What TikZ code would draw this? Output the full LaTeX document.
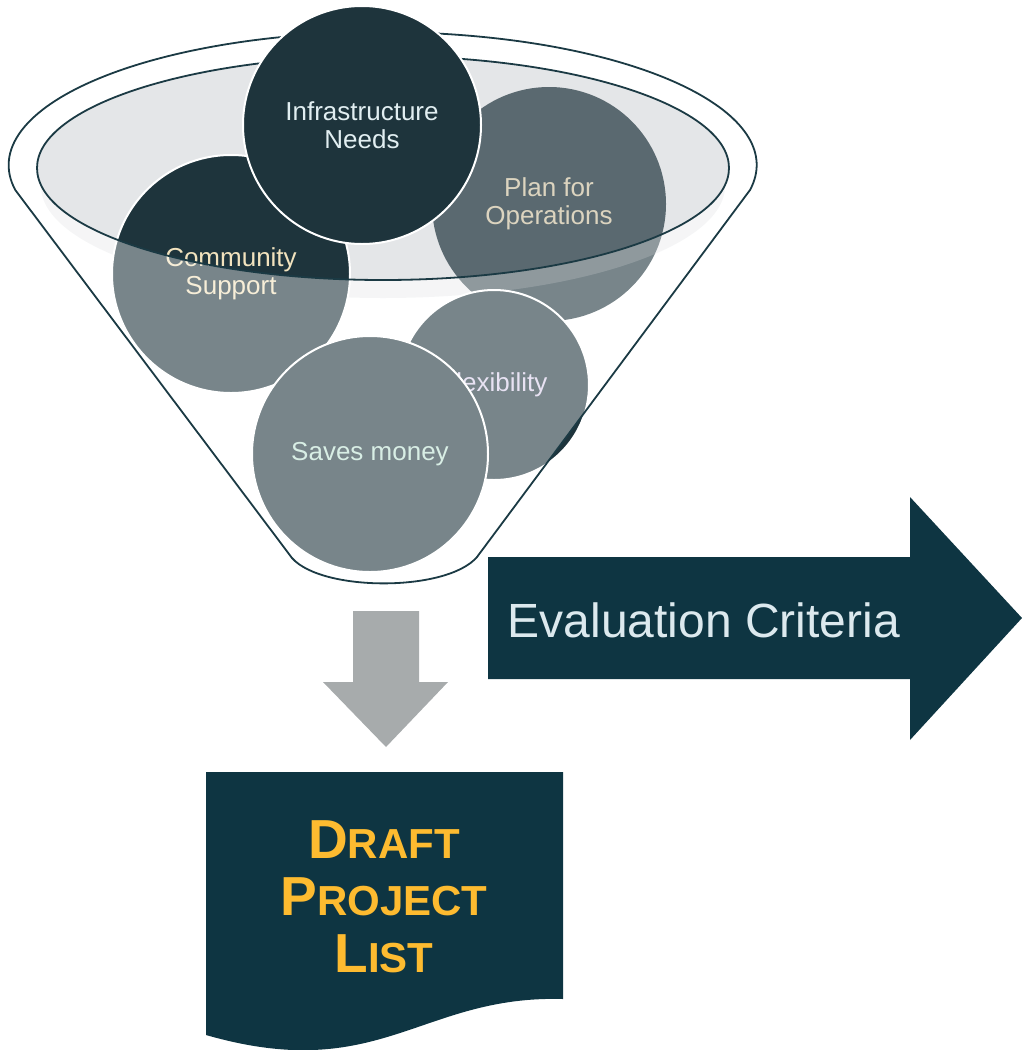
\documentclass[tikz,border=0pt]{standalone}
\usepackage{fontspec}
\setmainfont{Liberation Sans}
\usetikzlibrary{positioning}
\definecolor{balldark}{HTML}{1E343C}
\definecolor{rimline}{HTML}{1B3A44}
\definecolor{rimfill}{HTML}{BABEC3}
\definecolor{navy}{HTML}{0E3542}
\definecolor{arrowgray}{HTML}{A7ABAC}
\definecolor{gold}{HTML}{FDBB30}
\definecolor{ballcream}{HTML}{F2E3BE}
\definecolor{balllilac}{HTML}{D9D0EC}
\definecolor{ballmint}{HTML}{BFE3D4}
\definecolor{ballice}{HTML}{E1EEF1}
\definecolor{critlight}{HTML}{DCE9EE}
\newcommand{\bigini}[1]{{\fontsize{55}{57}\selectfont #1}}
\tikzset{
	ball/.style={circle, minimum size=#1, inner sep=0pt, fill=balldark, align=center, font=\fontsize{26}{28}\selectfont}, % the criteria circles
	rimmed/.style={draw=white, line width=2pt}, % white edge round a circle
	rim/.style={draw=rimline, line width=1.8pt}, % funnel lines
	rimshape/.style={x radius=346, y radius=112}, % the mouth of the funnel
}

\begin{document}
\begin{tikzpicture}[x=1pt, y=-1pt]
			\useasboundingbox (0,0) rectangle (1022,1050);

			% circle lying under the mouth
			\node[ball=234, text=ballcream] (plan) at (549,204) {Plan for\\Operations};

			% mouth of the funnel and its shadow
			\fill[rimfill, opacity=.25] (725,186) arc [start angle=0, end angle=180, x radius=342, y radius=112]
				-- (37,168) arc [start angle=180, end angle=0, rimshape] -- cycle;
			\fill[rimfill, opacity=.39] (383,168) ellipse [rimshape];

			\node[ball=238, rimmed, text=ballcream] (community) at (231,274) {Community\\Support};
			\node[ball=190, rimmed, text=balllilac] (flex) at (494,385) {Flexibility};
			\node[ball=236, rimmed, text=ballmint] (saves) at (370,454) {Saves money};

			% front of the funnel
			\fill[white, opacity=.4, even odd rule] (750,190) arc [start angle=10.8, end angle=-190.8, x radius=374, y radius=133]
				-- (292,558) .. controls (322,592) and (447,592) .. (477,557) -- cycle
				(383,168) ellipse [rimshape];
			\draw[rim] (750,190) arc [start angle=10.8, end angle=-190.8, x radius=374, y radius=133]
				-- (292,558) .. controls (322,592) and (447,592) .. (477,557) -- cycle;
			\draw[rim] (383,168) ellipse [rimshape];

			\node[ball=238, rimmed, text=ballice] (infra) at (362,125) {Infrastructure\\Needs};

			% arrows
			\fill[arrowgray] (353,611) -- (419,611) -- (419,682) -- (448,682) -- (386,747) -- (323,682) -- (353,682) -- cycle;
			\fill[navy] (488,557) -- (910,557) -- (910,497) -- (1022,618) -- (910,740) -- (910,679) -- (488,679) -- cycle;
			\node[text=critlight, font=\fontsize{48}{50}\selectfont] (criteria) at (704,620) {Evaluation Criteria};

			% draft list sheet
			\fill[navy] (206,772) -- (563,772) -- (563,999) .. controls (420,995) and (380,1085) .. (206,1035) -- cycle;
			\node[text=gold, font=\bfseries\fontsize{42}{57}\selectfont, align=center] (draft) at (384,897)
				{\bigini{D}RAFT\\\bigini{P}ROJECT\\\bigini{L}IST};
		\end{tikzpicture}
\end{document}
